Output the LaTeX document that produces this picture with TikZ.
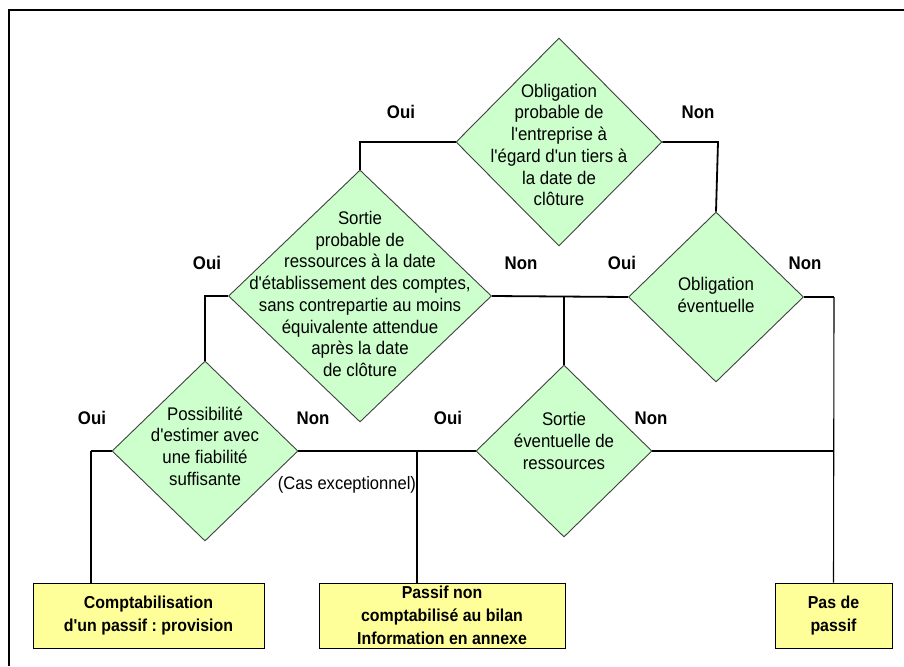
\documentclass[tikz,border=0pt]{standalone}
\usepackage{fontspec}
\setmainfont{Liberation Sans}[FakeStretch=0.92,Ligatures=TeXOff]
\frenchspacing
\usetikzlibrary{shapes.geometric,shadows}
\definecolor{dfill}{HTML}{CCFFCC}
\definecolor{bfill}{HTML}{FFFF99}
\definecolor{dline}{HTML}{404040}
\begin{document}
\begin{tikzpicture}[x=1pt,y=-1pt,
  dia/.style={diamond,draw=dline,fill=dfill,line width=0.9pt,inner sep=0pt},
  dtext/.style={align=center,inner sep=0pt,font=\fontsize{18.3}{21.7}\selectfont},
  lab/.style={inner sep=0pt,font=\fontsize{18.3}{21}\selectfont\bfseries},
  note/.style={inner sep=0pt,font=\fontsize{18}{21}\selectfont},
  outbox/.style={rectangle,draw=black,fill=bfill,line width=1pt,inner sep=0pt,
    align=center,font=\fontsize{17.3}{22.5}\selectfont\bfseries,
    general shadow={fill=black,shadow xshift=1.3pt,shadow yshift=-1.3pt}},
  conn/.style={draw=black,line width=1.8pt},
  thin/.style={draw=black,line width=1.1pt}]
\useasboundingbox (0,0) rectangle (904,666);
\fill[white] (0,0) rectangle (904,666);
% frame
\draw[line width=2.6pt] (9,666) -- (9,10) -- (904,10);

% diamonds
\node[dia,minimum width=206,minimum height=208] (d1) at (559,142) {};
\node[dia,minimum width=263,minimum height=252] (d2) at (360,296) {};
\node[dia,minimum width=186,minimum height=180] (d3) at (205,451) {};
\node[dia,minimum width=176,minimum height=172] (d4) at (564,451) {};
\node[dia,minimum width=175,minimum height=170] (d5) at (716,297) {};

\node[dtext] (t1) at (559,145) {Obligation\\probable de\\l'entreprise à\\l'égard d'un tiers à\\la date de\\clôture};
\node[dtext] (t2) at (360,294) {Sortie\\probable de\\ressources à la date\\d'établissement des comptes,\\sans contrepartie au moins\\équivalente attendue\\après la date\\de clôture};
\node[dtext] (t3) at (205,446) {Possibilité\\d'estimer avec\\une fiabilité\\suffisante};
\node[dtext] (t4) at (564,441) {Sortie\\éventuelle de\\ressources};
\node[dtext] (t5) at (716,295) {Obligation\\éventuelle};

% boxes
\node[outbox,minimum width=231,minimum height=65] (b1) at (148.5,615.5) {Comptabilisation\\d'un passif : provision};
\node[outbox,minimum width=246,minimum height=65,font=\fontsize{17.3}{23}\selectfont\bfseries] (b2) at (442,615.5) {Passif non\\comptabilisé au bilan\\Information en annexe};
\node[outbox,minimum width=117,minimum height=65] (b3) at (833.5,615.5) {Pas de\\passif};

% junction coordinates
\coordinate (j1) at (360,142);
\coordinate (j2) at (718,142);
\coordinate (j3) at (205,296);
\coordinate (j4) at (564,296);
\coordinate (j5) at (834,297);
\coordinate (j6) at (91,451);
\coordinate (j7) at (417,451);
\coordinate (j8) at (834,451);

% connectors
\draw[conn] (d1.west) -- (j1) -- (d2.north);
\draw[conn] (d1.east) -- (j2) -- (d5.north);
\draw[conn] (d2.west) -- (j3) -- (d3.north);
\draw[conn] (d2.east) -- (d5.west);
\draw[thin] (j4) -- (d4.north);
\draw[conn] (d5.east) -- (j5);
\draw[thin] (j5) -- (b3.north);
\draw[conn] (d3.west) -- (j6);
\draw[thin] (j6) -- (j6 |- b1.north);
\draw[conn] (d3.east) -- (d4.west);
\draw[conn] (j7) -- (j7 |- b2.north);
\draw[conn] (d4.east) -- (j8);

% labels
\node[lab] (l1) at (401,112) {Oui};
\node[lab] (l2) at (698,112) {Non};
\node[lab] (l3) at (207,263) {Oui};
\node[lab] (l4) at (521,263) {Non};
\node[lab] (l5) at (622,263) {Oui};
\node[lab] (l6) at (805,263) {Non};
\node[lab] (l7) at (92,418) {Oui};
\node[lab] (l8) at (313,418) {Non};
\node[lab] (l9) at (448,418) {Oui};
\node[lab] (l10) at (651,418) {Non};
\node[note] (n1) at (347,485) {(Cas exceptionnel)};
\end{tikzpicture}
\end{document}
